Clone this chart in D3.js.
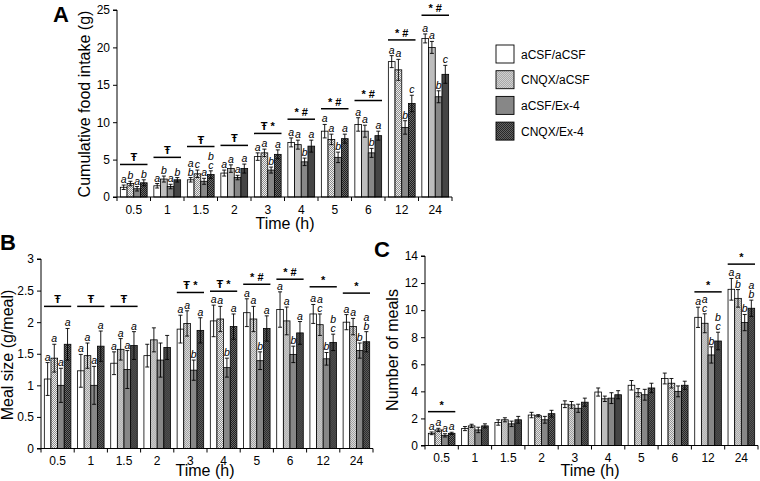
<!DOCTYPE html>
<html><head><meta charset="utf-8">
<script src="https://cdn.jsdelivr.net/npm/d3@7"></script>
<style>body{margin:0;background:#fff}svg{display:block;font-family:Arial,"Liberation Sans",sans-serif}</style>
</head><body><svg id="c" width="760" height="481"></svg>
<script>
// ---------- DATA ----------
const times = ["0.5","1","1.5","2","3","4","5","6","12","24"];
const groups = ["aCSF/aCSF","CNQX/aCSF","aCSF/Ex-4","CNQX/Ex-4"];

// Panel A: cumulative food intake (g)
const intakeACSF     = [1.3,1.5,2.3,3.2,5.4,7.3,8.8,9.7,18.1,21.2];
const intakeCNQX     = [1.8,2.4,3.1,3.8,5.9,7.0,7.7,8.8,17.0,20.0];
const intakeEx4      = [1.1,1.4,2.1,2.6,3.6,4.7,5.3,5.9,9.3,13.4];
const intakeCNQXEx4  = [1.9,2.3,3.0,3.8,5.7,6.8,7.8,8.2,12.5,16.4];
const intakeErrACSF    = [0.3,0.3,0.3,0.4,0.5,0.6,0.9,0.9,0.8,0.6];
const intakeErrCNQX    = [0.3,0.4,0.5,0.5,0.5,0.6,0.7,0.8,1.4,0.8];
const intakeErrEx4     = [0.3,0.3,0.4,0.3,0.4,0.5,0.7,0.6,0.9,0.8];
const intakeErrCNQXEx4 = [0.4,0.3,0.5,0.6,0.6,0.8,0.6,0.6,1.1,1.2];
const intakeLetters = [["a","b","a","b"],["a","b","a","b"],["a|b","c","a","b|c"],["a","a","a","a"],
  ["a","a","b","a"],["a","a","b","a"],["a","a","b","a"],["a","a","b","a"],["a","a","b","c"],["a","a","b","c"]];
const intakeSig = ["Ŧ","Ŧ","Ŧ","Ŧ","Ŧ *","* #","* #","* #","* #","* #"];
const intakeSigLevel = [4.35,5.3,6.75,6.9,8.5,10.4,11.8,12.9,21.0,24.3];
const intakeTicks = [0,5,10,15,20,25];

// Panel B: meal size (g/meal)
const sizeACSF     = [1.10,1.23,1.35,1.47,1.89,2.02,2.15,2.20,2.13,2.00];
const sizeCNQX     = [1.43,1.47,1.57,1.72,1.98,2.05,2.05,2.02,1.96,1.93];
const sizeEx4      = [1.00,1.00,1.25,1.40,1.24,1.28,1.39,1.49,1.42,1.55];
const sizeCNQXEx4  = [1.65,1.62,1.63,1.60,1.87,1.93,1.90,1.83,1.68,1.69];
const sizeErrACSF    = [0.26,0.26,0.18,0.18,0.22,0.25,0.22,0.28,0.15,0.12];
const sizeErrCNQX    = [0.22,0.20,0.17,0.19,0.20,0.20,0.20,0.22,0.17,0.13];
const sizeErrEx4     = [0.27,0.30,0.30,0.27,0.16,0.15,0.14,0.13,0.10,0.12];
const sizeErrCNQXEx4 = [0.25,0.24,0.22,0.19,0.20,0.20,0.20,0.18,0.13,0.16];
const sizeLetters = [["a","a","a","a"],["a","a","a","a"],["a","a","a","a"],["","","",""],
  ["a","a","b","a"],["a","a","b","a"],["a","a","b","a"],["a","a","b","a"],["a","a|c","b","b|c"],["a","a","b","a|b"]];
const sizeSig = ["Ŧ","Ŧ","Ŧ","","Ŧ *","Ŧ *","* #","* #","*","*"];
const sizeSigLevel = [2.25,2.25,2.25,0,2.47,2.49,2.6,2.68,2.56,2.46];
const sizeTicks = [0,0.5,1,1.5,2,2.5,3];

// Panel C: number of meals
const mealsACSF     = [0.90,1.25,1.70,2.25,3.05,3.95,4.45,4.95,9.47,11.54];
const mealsCNQX     = [1.15,1.45,1.90,2.20,3.00,3.45,3.90,4.60,9.03,10.87];
const mealsEx4      = [0.75,1.15,1.60,1.90,2.75,3.50,3.75,4.00,6.69,9.08];
const mealsCNQXEx4  = [0.90,1.45,1.90,2.35,3.20,3.75,4.25,4.45,7.72,10.14];
const mealsErrACSF    = [0.10,0.15,0.20,0.20,0.25,0.30,0.35,0.40,0.75,0.80];
const mealsErrCNQX    = [0.12,0.12,0.15,0.08,0.25,0.20,0.30,0.35,0.70,0.65];
const mealsErrEx4     = [0.12,0.20,0.20,0.25,0.30,0.40,0.40,0.40,0.60,0.60];
const mealsErrCNQXEx4 = [0.08,0.15,0.25,0.25,0.30,0.30,0.35,0.30,0.65,0.60];
const mealsLetters = [["a","a","a","a"],["","","",""],["","","",""],["","","",""],["","","",""],
  ["","","",""],["","","",""],["","","",""],["a","a|c","b","b|c"],["a","a|b","b","a|b"]];
const mealsSig = ["*","","","","","","","","*","*"];
const mealsSigLevel = [2.5,0,0,0,0,0,0,0,11.35,13.4];
const mealsTicks = [0,2,4,6,8,10,12,14];

// ---------- DRAW ----------
const svg = d3.select("#c");
const defs = svg.append("defs");
function checker(id, bg, fg) {
  const p = defs.append("pattern").attr("id", id).attr("patternUnits","userSpaceOnUse")
    .attr("width",2).attr("height",2);
  p.append("rect").attr("width",2).attr("height",2).attr("fill",bg);
  p.append("rect").attr("x",0).attr("y",0).attr("width",1).attr("height",1).attr("fill",fg);
  p.append("rect").attr("x",1).attr("y",1).attr("width",1).attr("height",1).attr("fill",fg);
}
checker("pLight","#eeeeee","#8c8c8c");
checker("pDark","#6a6a6a","#202020");
const fills = ["#ffffff","url(#pLight)","#878787","url(#pDark)"];
const color = d3.scaleOrdinal().domain(groups).range(fills);

function panel(cfg) {
  const g = svg.append("g");
  const x = d3.scaleBand().domain(times).range([cfg.x0, cfg.x1]).paddingInner(0).paddingOuter(0);
  const xs = d3.scaleBand().domain(groups).range([0, x.bandwidth()]).paddingInner(0).paddingOuter(0.5);
  const y = d3.scaleLinear().domain(cfg.domain).range([cfg.y0, cfg.y1]);

  const rows = times.map((t, i) => ({t, i, vals: groups.map((s, k) => ({
    s, k, v: cfg.series[k][i], e: cfg.errs[k][i], lab: cfg.letters[i][k]}))}));

  const gg = g.selectAll(".grp").data(rows).join("g").attr("transform", d => `translate(${x(d.t)},0)`);
  gg.selectAll("rect").data(d => d.vals).join("rect")
    .attr("x", d => xs(d.s)).attr("width", xs.bandwidth())
    .attr("y", d => y(d.v)).attr("height", d => y(0) - y(d.v))
    .attr("fill", d => color(d.s)).attr("stroke", "#000").attr("stroke-width", 0.8);

  // error bars
  const eb = gg.selectAll(".eb").data(d => d.vals).join("g").attr("class","eb")
    .attr("stroke","#000").attr("stroke-width",0.9);
  const cx = d => xs(d.s) + xs.bandwidth() / 2;
  eb.append("line").attr("x1", cx).attr("x2", cx).attr("y1", d => y(d.v - d.e)).attr("y2", d => y(d.v + d.e));
  eb.append("line").attr("x1", d => cx(d) - 2).attr("x2", d => cx(d) + 2).attr("y1", d => y(d.v + d.e)).attr("y2", d => y(d.v + d.e));
  eb.append("line").attr("x1", d => cx(d) - 2).attr("x2", d => cx(d) + 2).attr("y1", d => y(d.v - d.e)).attr("y2", d => y(d.v - d.e));

  // letters
  gg.selectAll(".lt").data(d => d.vals.filter(v => v.lab)).join("text").attr("class","lt")
    .attr("x", cx).attr("text-anchor","middle").attr("font-size", 10.5).attr("font-style","italic")
    .attr("fill","#000")
    .each(function(d) {
      const parts = d.lab.split("|");
      const base = y(d.v + d.e) - 2;
      d3.select(this).selectAll("tspan").data(parts).join("tspan")
        .attr("x", cx(d)).attr("y", (p, j) => base - (parts.length - 1 - j) * 9).text(p => p);
    });

  // significance lines
  const sg = gg.filter(d => cfg.sig[d.i]);
  sg.append("line").attr("x1", 3).attr("x2", x.bandwidth() - 3)
    .attr("y1", d => y(cfg.sigLevel[d.i])).attr("y2", d => y(cfg.sigLevel[d.i]))
    .attr("stroke","#000").attr("stroke-width",1.5);
  sg.append("text").attr("x", x.bandwidth() / 2).attr("y", d => y(cfg.sigLevel[d.i]) - 3)
    .attr("text-anchor","middle").attr("font-size", 11).attr("font-weight","bold")
    .text(d => cfg.sig[d.i]);

  // axes
  const ya = g.append("g").attr("transform", `translate(${cfg.x0},0)`)
    .call(d3.axisLeft(y).tickValues(cfg.ticks).tickSize(4).tickPadding(3).tickFormat(d3.format("")));
  ya.selectAll("text").attr("font-size", 12).attr("fill","#000").attr("font-family","Arial, 'Liberation Sans', sans-serif");
  ya.select(".domain").attr("d", `M-4,${cfg.y0}H0V${cfg.y1}H-4`);

  const xa = g.append("g").attr("transform", `translate(0,${cfg.y0})`)
    .call(d3.axisBottom(x).tickSize(0).tickPadding(8));
  xa.selectAll("text").attr("font-size", 12).attr("fill","#000").attr("font-family","Arial, 'Liberation Sans', sans-serif");
  xa.select(".domain").attr("d", `M${cfg.x0},0H${cfg.x1}`);
  const bounds = times.map(t => x(t)).concat([cfg.x1]);
  xa.selectAll(".bt").data(bounds).join("line").attr("class","bt")
    .attr("x1", d => d).attr("x2", d => d).attr("y1", 0).attr("y2", 4).attr("stroke","#000");

  g.append("text").attr("x", cfg.xTitleX).attr("y", cfg.xTitleY).attr("text-anchor","middle")
    .attr("font-size", 16).text("Time (h)");
  g.append("text").attr("transform", `translate(${cfg.yTitleX},${cfg.yTitleY}) rotate(-90)`)
    .attr("text-anchor","middle").attr("font-size", 16).text(cfg.yTitle);
  g.append("text").attr("x", cfg.letterX).attr("y", cfg.letterY).attr("font-size", 22)
    .attr("font-weight","bold").text(cfg.letter);
}

panel({x0:117, x1:452, y0:197, y1:10, domain:[0,25], ticks:intakeTicks,
  series:[intakeACSF,intakeCNQX,intakeEx4,intakeCNQXEx4],
  errs:[intakeErrACSF,intakeErrCNQX,intakeErrEx4,intakeErrCNQXEx4],
  letters:intakeLetters, sig:intakeSig, sigLevel:intakeSigLevel,
  xTitleX:285, xTitleY:229, yTitleX:90, yTitleY:104, yTitle:"Cumulative food intake (g)",
  letter:"A", letterX:53, letterY:22});

panel({x0:41, x1:373, y0:448.5, y1:259, domain:[0,3], ticks:sizeTicks,
  series:[sizeACSF,sizeCNQX,sizeEx4,sizeCNQXEx4],
  errs:[sizeErrACSF,sizeErrCNQX,sizeErrEx4,sizeErrCNQXEx4],
  letters:sizeLetters, sig:sizeSig, sigLevel:sizeSigLevel,
  xTitleX:205, xTitleY:476, yTitleX:13, yTitleY:355, yTitle:"Meal size (g/meal)",
  letter:"B", letterX:0, letterY:250});

panel({x0:425, x1:758, y0:445.5, y1:256, domain:[0,14], ticks:mealsTicks,
  series:[mealsACSF,mealsCNQX,mealsEx4,mealsCNQXEx4],
  errs:[mealsErrACSF,mealsErrCNQX,mealsErrEx4,mealsErrCNQXEx4],
  letters:mealsLetters, sig:mealsSig, sigLevel:mealsSigLevel,
  xTitleX:590, xTitleY:476, yTitleX:398, yTitleY:350, yTitle:"Number of meals",
  letter:"C", letterX:374, letterY:257});

// legend
const lg = svg.append("g").attr("transform","translate(496,45)");
const li = lg.selectAll("g").data(groups).join("g").attr("transform",(d,i)=>`translate(0,${i*25.7})`);
li.append("rect").attr("width",18).attr("height",18).attr("fill", d => color(d)).attr("stroke","#000").attr("stroke-width",0.9);
li.append("text").attr("x",25).attr("y",13.5).attr("font-size",12).text(d => d);
</script></body></html>
